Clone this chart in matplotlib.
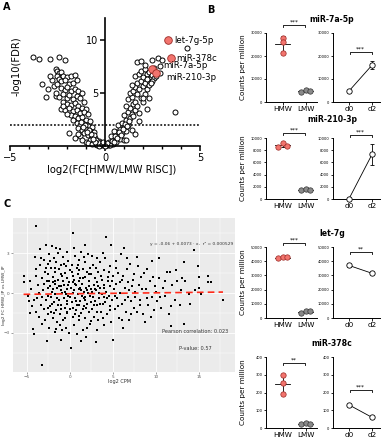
import numpy as np
import matplotlib
matplotlib.use("Agg")
import matplotlib.pyplot as plt

# ---------------- data ----------------
# Panel A: volcano (log2 FC, -log10 FDR)
volcano_fc = [
    -3.8, -3.5, -2.9, -2.4, -2.1, -3.0, -3.1, -2.6,
    -2.6, -2.5, -2.4, -2.3, -2.2, -2.5, -2.0, -1.8, -1.6, -2.4, -2.3, -2.1, -1.9, -1.7, -1.5,
    -2.7, -2.5, -2.3, -2.1, -2.0, -1.8, -1.6, -1.4, -1.2,
    -2.4, -2.2, -2.0, -1.9, -1.7, -1.5, -1.3, -1.1, -2.2, -2.0, -1.8, -1.6, -1.4, -1.2, -1.0,
    -2.3, -2.1, -1.9, -1.7, -1.5, -1.3, -1.1, -0.9, -1.8, -1.6, -1.4, -1.2, -1.0, -0.8,
    -1.5, -1.3, -1.1, -0.9, -0.7, -1.4, -1.2, -1.0, -0.8, -0.6, -1.1, -0.9, -0.7, -0.5,
    -0.8, -0.6, -0.4, -0.5, -0.3, -0.2, -0.1, -1.3, -1.9, -1.6, -1.0, -0.3, -0.9, -0.7,
    -0.4, -0.6, -2.6, -2.8, -3.3, -2.9, -1.4, -1.2, -1.7, -2.0, -2.2,
    0.1, 0.2, 0.3, 0.2, 0.4, 0.5, 0.4, 0.6, 0.7, 0.6, 0.8, 0.8, 0.9, 0.7, 1.0, 1.1,
    0.9, 1.0, 1.1, 1.0, 1.2, 1.2, 1.3, 1.4, 1.3, 1.4, 1.5, 1.5, 1.6, 1.1, 1.2, 1.4,
    1.6, 1.7, 1.8, 1.3, 1.5, 1.7, 1.9, 2.0, 1.6, 1.8, 2.0, 2.2, 1.4, 1.7, 1.9, 2.1,
    2.3, 1.6, 1.8, 2.0, 2.2, 2.4, 1.9, 2.1, 2.3, 2.5, 2.6, 1.7, 1.9, 2.1, 2.5, 2.8,
    3.0, 4.3, 3.7, 2.5, 2.7, 2.9, 1.8, 2.2, 1.1, 1.6, 2.1, 2.3, 0.5, 0.3, 2.4, 2.2,
    2.0, 2.6, 2.9,
    -0.2, -0.3, -0.15, 0.15, 0.25, -0.35, 0.35, -0.45, 0.45, -0.55, 0.55, -0.65, 0.65,
    -0.75, 0.75, -0.85, 0.85, -0.95, 0.95, -1.05, 1.05, -1.15, 1.15, -1.25, 1.25,
    0.05, -0.05, 0.1, -0.1, 0.0,
]
volcano_fdr = [
    8.4, 8.2, 8.2, 8.4, 8.1, 5.4, 4.6, 4.7,
    7.3, 7.1, 6.9, 7.0, 6.6, 6.6, 6.5, 6.6, 6.7, 6.3, 6.1, 6.2, 5.9, 6.0, 6.2,
    5.7, 5.9, 5.5, 5.3, 5.6, 5.2, 5.4, 5.2, 5.0,
    4.6, 4.9, 4.5, 4.8, 4.4, 4.7, 4.5, 4.2, 4.2, 4.0, 3.9, 4.1, 3.8, 3.6, 3.5,
    3.5, 3.4, 3.6, 3.3, 3.4, 3.1, 3.2, 3.0, 2.9, 2.8, 2.6, 2.7, 2.5, 2.4,
    2.2, 2.0, 2.1, 1.9, 1.8, 1.7, 1.5, 1.6, 1.4, 1.3, 1.2, 1.0, 0.9, 0.8,
    0.6, 0.5, 0.4, 0.2, 0.2, 0.1, 0.05, 0.9, 1.2, 0.8, 0.4, 0.5, 0.3, 0.2,
    0.1, 1.0, 5.0, 6.2, 5.9, 6.6, 1.1, 0.6, 2.5, 3.0, 3.8,
    0.05, 0.1, 0.3, 0.4, 0.2, 0.6, 0.8, 0.4, 1.0, 1.3, 0.7, 1.6, 1.2, 2.0, 0.6, 0.6,
    2.2, 1.8, 2.5, 2.9, 2.0, 3.2, 2.6, 1.5, 3.6, 3.0, 2.8, 4.0, 3.4, 3.8, 4.4, 4.6,
    4.2, 3.8, 3.1, 5.0, 5.2, 4.9, 4.5, 4.2, 5.6, 5.4, 5.7, 5.4, 5.8, 6.0, 6.1, 6.0,
    5.8, 6.6, 6.8, 6.5, 6.8, 6.5, 7.1, 7.3, 7.0, 6.7, 6.4, 7.9, 8.0, 7.7, 8.1, 8.3,
    8.1, 9.3, 3.2, 6.1, 6.6, 6.9, 2.4, 3.5, 1.4, 1.1, 4.9, 4.5, 1.4, 0.9, 6.0, 6.3,
    4.5, 7.4, 7.6,
    0.3, 0.0, 0.2, 0.2, 0.05, 0.35, 0.5, 0.6, 0.4, 0.4, 0.9, 0.7, 0.8,
    1.1, 1.3, 1.5, 1.0, 1.3, 1.6, 2.0, 2.1, 1.8, 1.9, 2.3, 2.4,
    0.1, 0.15, 0.3, 0.35, 0.0,
]
highlight_names = ["let-7g-5p", "miR-378c", "miR-7a-5p", "miR-210-3p"]
highlight_fc = [3.3, 3.47, 2.47, 2.7]
highlight_fdr = [10.0, 8.3, 7.3, 6.9]
fdr_threshold = 2.0

# Panel B: counts per million
mirnas = ["miR-7a-5p", "miR-210-3p", "let-7g", "miR-378c"]
hmw_cpm = [[28000, 26000, 21500], [8600, 9200, 8700], [42000, 43000, 42800], [300, 255, 190]]
lmw_cpm = [[4500, 5200, 4800], [1500, 1600, 1550], [3800, 5000, 4900], [22, 28, 25]]
d0_cpm = [4800, 50, 37000, 130]
d2_cpm = [16000, 7300, 31500, 60]
d0_err = [300, 30, 1200, 6]
d2_err = [1800, 1700, 600, 5]
group_labels = ["HMW", "LMW"]
day_labels = ["d0", "d2"]
sig_groups = ["***", "***", "***", "**"]
sig_days = ["***", "***", "**", "***"]
y_max = [30000, 10000, 50000, 400]
y_step = [10000, 2000, 10000, 100]

# Panel C: log2 CPM vs log2 FC
cpm_pts = [
    (-5.4, 1.3), (-5.4, 0.85), (-4.9, -0.2), (-4.8, -0.6), (-4.6, -1.5), (-4.3, -2.7), (-4.2, -3.1),
    (-4.5, 0.3), (-4.4, -1.0), (-4.1, 2.7), (-4.0, 5.0), (-3.9, 1.8), (-3.8, -0.4), (-3.7, 0.6),
    (-3.6, -1.8), (-3.5, 3.3), (-3.5, 2.1), (-3.4, -0.9), (-3.3, -5.4), (-3.3, 1.1), (-3.2, -2.3),
    (-3.1, 0.2), (-3.0, 2.5), (-3.0, -1.2), (-2.9, 1.6), (-2.8, 3.6), (-2.8, -0.5), (-2.7, -3.6),
    (-2.7, 0.9), (-2.6, 2.2), (-2.6, -1.6), (-2.5, 1.4), (-2.5, -0.2), (-2.4, 2.9), (-2.4, -2.6),
    (-2.3, 0.5), (-2.3, -1.0), (-2.2, 1.9), (-2.2, -0.3), (-2.1, 3.5), (-2.1, 0.1), (-2.0, -1.9),
    (-2.0, 1.2), (-1.9, 2.6), (-1.9, -0.7), (-1.8, 0.7), (-1.8, -2.9), (-1.7, 1.6), (-1.7, -0.1),
    (-1.6, 2.3), (-1.6, -1.3), (-1.5, 0.4), (-1.5, -2.2), (-1.4, 1.0), (-1.4, 3.0), (-1.3, -0.5),
    (-1.3, 1.8), (-1.2, 3.3), (-1.2, -1.6), (-1.1, 0.2), (-1.1, 2.1), (-1.0, -3.5), (-1.0, -0.9),
    (-0.9, 1.3), (-0.9, 0.0), (-0.8, 2.7), (-0.8, -2.0), (-0.7, 0.6), (-0.7, -0.4), (-0.6, 1.5),
    (-0.6, -1.1), (-0.5, 2.0), (-0.5, -2.6), (-0.4, 0.3), (-0.4, -0.6), (-0.3, 1.1), (-0.3, -1.5),
    (-0.2, 2.4), (-0.2, -0.2), (-0.1, 0.8), (-0.1, -3.0), (0.0, -1.2), (0.0, 1.7), (-2.0, 0.8),
    (-1.5, -0.4), (-1.0, 0.5), (-0.5, -0.1), (-2.2, -1.4), (-1.8, 1.9), (-1.2, -2.4), (-0.8, 0.9),
    (-0.3, -0.8), (-2.4, 0.9), (-1.6, -2.7), (-0.6, -1.9),
    (0.1, -4.1), (0.1, 0.4), (0.2, 2.1), (0.2, -0.7), (0.3, 1.3), (0.3, -1.8), (0.4, 4.5), (0.4, 0.0),
    (0.5, -2.4), (0.5, 1.0), (0.6, 2.8), (0.6, -0.4), (0.7, 0.6), (0.7, -1.3), (0.8, 1.9), (0.8, -3.1),
    (0.9, -0.1), (0.9, 1.4), (1.0, -0.9), (1.0, 2.5), (1.1, 0.3), (1.1, -2.0), (1.2, 1.1), (1.2, -0.6),
    (1.3, 3.1), (1.3, -1.5), (1.4, 0.7), (1.4, -0.2), (1.5, 1.8), (1.5, -2.8), (1.6, 0.1), (1.6, -1.0),
    (1.7, 2.3), (1.7, -0.5), (1.8, 1.2), (1.8, -1.9), (1.9, 0.4), (1.9, -3.3), (2.0, 1.6), (2.0, -0.8),
    (2.1, 2.9), (2.1, 0.0), (2.2, -1.4), (2.2, 0.9), (2.3, -2.3), (2.3, 1.9), (2.4, 0.3), (2.4, -0.7),
    (0.3, 0.8), (0.8, -0.9), (1.3, 0.2), (1.8, -0.3), (2.2, 0.5), (0.6, -1.6), (1.1, 1.7), (1.6, 2.7),
    (2.0, -2.6), (0.5, 0.2), (1.0, 0.9), (1.5, -1.2),
    (2.5, 1.4), (2.6, -1.2), (2.7, 2.1), (2.7, -0.3), (2.8, 0.6), (2.8, -1.8), (2.9, 1.1), (3.0, -3.7),
    (3.0, 0.2), (3.1, 2.6), (3.1, -0.9), (3.2, 0.8), (3.3, -2.0), (3.3, 1.6), (3.4, -0.4), (3.5, 0.4),
    (3.5, 2.3), (3.6, -1.4), (3.7, 1.0), (3.7, -0.1), (3.8, 3.0), (3.9, -2.4), (3.9, 0.6), (4.0, 1.7),
    (4.1, -0.7), (4.2, 4.2), (4.2, 0.1), (4.3, -1.6), (4.4, 1.2), (4.5, -0.2), (4.6, 2.0), (4.6, -1.0),
    (4.7, 0.5), (4.8, 3.6), (4.8, -2.2), (4.9, -0.5), (5.0, -3.5), (5.0, 1.3), (2.6, 0.1), (3.4, 0.0),
    (4.0, -0.3), (2.9, -0.6), (3.8, -0.8), (4.4, 0.9), (3.2, -2.8),
    (5.1, 0.3), (5.2, -1.2), (5.3, 2.4), (5.4, 0.7), (5.5, -0.4), (5.6, 1.5), (5.7, -1.9), (5.8, 0.0),
    (5.9, 2.9), (6.0, -0.8), (6.1, 1.0), (6.2, -2.6), (6.3, 3.4), (6.4, 0.4), (6.5, -1.4), (6.6, 1.8),
    (6.7, -0.3), (6.8, 0.8), (6.9, -2.0), (7.0, 2.2), (7.1, -0.6), (7.2, 0.5), (7.4, 1.4), (7.5, -1.1),
    (7.6, 0.1), (7.8, -1.4), (7.9, 2.0), (8.0, 0.6), (8.2, -0.5), (8.3, 1.2), (8.5, -1.6), (8.7, -2.2),
    (8.8, 0.3), (9.0, 1.8), (9.1, -0.9), (9.3, 0.9), (9.5, -0.3), (9.6, 2.4), (9.8, -1.3), (9.9, 0.5),
    (10.1, -0.6), (10.3, 1.1), (10.4, 2.6), (10.6, -1.1), (10.8, 0.4), (11.0, -0.2), (11.3, 1.6),
    (11.5, -1.6), (11.6, 1.6), (11.7, -2.5), (11.9, 0.6), (12.2, -0.5), (12.5, 0.9), (12.8, -0.9),
    (13.0, 1.1), (13.3, 2.3), (13.3, -2.3), (13.4, 0.9), (13.8, -0.1), (14.4, 3.2), (14.6, 0.2),
    (15.0, 1.2), (15.0, 0.4), (15.2, -0.1), (16.1, 0.8), (16.1, 1.3), (16.4, 0.8), (17.8, -0.5),
    (-4.7, 0.9), (-4.2, -0.5), (-4.0, 1.3), (-3.9, -1.4), (-3.6, 0.0), (-3.4, 2.6), (-3.2, -0.3),
    (-3.0, 0.7), (-2.9, -2.0), (-2.8, 1.9), (-2.6, 0.4), (-2.5, -1.1), (-2.3, 2.4), (-2.1, -0.8),
    (-2.0, 0.3), (-1.9, -1.5), (-1.7, 0.9), (-1.6, 3.4), (-1.4, -0.9), (-1.3, 0.5), (-1.1, -1.2),
    (-1.0, 1.4), (-0.9, -2.8), (-0.7, 2.2), (-0.6, 0.1), (-0.4, -1.4), (-0.3, 3.1), (-0.2, 0.6),
    (0.0, -0.3), (0.2, 1.6), (0.4, -1.1), (0.5, 3.4), (0.6, 0.7), (0.7, -0.6), (0.9, 2.1), (1.0, -1.7),
    (1.2, 0.4), (1.3, -3.6), (1.5, 1.1), (1.6, -0.4), (1.7, 3.6), (1.9, -1.1), (2.0, 0.2), (2.2, 1.4),
    (2.3, -0.2), (2.5, -2.1), (2.6, 2.8), (2.8, -0.9), (2.9, 0.3), (3.0, 1.9), (3.2, -1.4), (3.3, 0.5),
    (3.5, -0.8), (3.6, 1.3), (3.8, -1.9), (4.0, 0.4), (4.1, 2.6), (4.3, -0.4), (4.5, 1.6), (4.7, -1.3),
    (4.9, 0.9), (5.2, -0.2), (5.4, 1.9), (5.6, -1.0), (5.8, 0.8), (6.0, -2.0), (6.2, 1.3), (6.4, -0.5),
    (6.6, 2.6), (6.9, 0.2), (7.1, -1.6), (7.3, 1.0), (7.6, -0.3), (7.8, 2.7), (8.1, -0.9), (8.4, 0.3),
    (8.6, 1.5), (9.0, -0.4), (9.4, -1.8), (9.7, 1.2), (10.0, 0.1), (10.5, -0.3), (11.1, 0.9),
    (11.8, -1.0), (12.3, 1.7), (12.9, 0.2), (14.0, -0.8), (14.9, 2.0),
]
cpm_x = [p[0] for p in cpm_pts]
cpm_y = [p[1] for p in cpm_pts]
fit_intercept = -0.06
fit_slope = 0.0073
fit_r2 = "0.000529"
pearson_r = "0.023"
p_value = "0.57"

# ---------------- figure ----------------
W, H = 390, 440
fig = plt.figure(figsize=(W / 100, H / 100), dpi=100)
fig.patch.set_facecolor("white")


def add_ax(l, t, r, b):
    return fig.add_axes([l / W, 1 - b / H, (r - l) / W, (b - t) / H])


def fx(px):
    return px / W


def fy(py):
    return 1 - py / H


RED = "#f2746e"
RED_EDGE = "#9a2a25"
GRAY = "#8a8a8a"
GRAY_EDGE = "#333333"

# ---------- Panel A ----------
fig.text(fx(3), fy(7), "A", fontsize=7, fontweight="bold", ha="left", va="center")
axA = add_ax(10, 18, 200, 146)
axA.scatter(volcano_fc, volcano_fdr, s=13, facecolor="white", edgecolor="black",
            linewidth=0.7, zorder=2, clip_on=False)
axA.scatter(highlight_fc, highlight_fdr, s=30, facecolor=RED, edgecolor=RED_EDGE,
            linewidth=0.6, zorder=3)
offsets = [(5, 0), (3.5, 0), (8, 2), (7, -3)]
for name, x, y, off in zip(highlight_names, highlight_fc, highlight_fdr, offsets):
    axA.annotate(name, (x, y), xytext=off, textcoords="offset points",
                 ha="left", va="center", fontsize=6.2, annotation_clip=False)
axA.set_xlim(-5, 5)
axA.set_ylim(0, 12.1)
axA.spines["left"].set_position(("data", 0))
axA.spines[["top", "right"]].set_visible(False)
axA.spines["left"].set_linewidth(1.2)
axA.spines["bottom"].set_linewidth(1.2)
axA.set_xticks([-5, 0, 5])
axA.set_xticks(np.arange(-5, 6, 1), minor=True)
axA.set_yticks([5, 10])
axA.tick_params(axis="both", which="major", labelsize=7, length=3.5, width=1.1, pad=1.5)
axA.tick_params(axis="x", which="minor", length=2.5, width=1.0)
axA.axhline(fdr_threshold, ls=(0, (1.2, 1.2)), color="black", lw=1.1, zorder=1)
axA.set_facecolor("none")
fig.text(fx(112), fy(170), "log2(FC[HMW/LMW RISC])", fontsize=7.2, ha="center", va="center")
fig.text(fx(17), fy(66), "-log10(FDR)", fontsize=7.2, ha="center", va="center", rotation=90)

# ---------- Panel B ----------
fig.text(fx(207), fy(10), "B", fontsize=7, fontweight="bold", ha="left", va="center")
row_tops = [33, 138, 247, 357]
row_bots = [102, 199, 318, 428]
title_y = [19, 119, 233, 343]
grp_sig_y = [33500, 10800, 52800, 366]
day_sig_y = [21700, 10500, 46500, 214]


def style_b(ax, ymax, step, labels):
    ax.set_ylim(0, ymax)
    ax.set_yticks(np.arange(0, ymax + 1, step))
    ax.spines[["top", "right"]].set_visible(False)
    ax.spines["left"].set_linewidth(0.7)
    ax.spines["bottom"].set_linewidth(0.7)
    ax.set_xticks([0, 1])
    ax.set_xticklabels(labels)
    ax.tick_params(axis="y", labelsize=2.6, length=1.8, width=0.6, pad=0.8)
    ax.tick_params(axis="x", labelsize=5.2, length=2, width=0.6, pad=1)
    ax.set_facecolor("none")


def bracket(ax, y, ymax, axis_px, stars):
    h = ymax * 2.0 / axis_px
    ax.plot([0.02, 0.02, 0.98, 0.98], [y - h, y, y, y - h], color="black", lw=0.6, clip_on=False)
    ax.text(0.5, y + h * 0.3, stars, ha="center", va="bottom", fontsize=4.2, clip_on=False)


for r in range(4):
    t, b = row_tops[r], row_bots[r]
    ymax, step = y_max[r], y_step[r]
    axp = b - t
    # left: HMW vs LMW
    axL = add_ax(266, t, 317, b)
    for i, (vals, fc, ec) in enumerate([(hmw_cpm[r], RED, RED_EDGE), (lmw_cpm[r], GRAY, GRAY_EDGE)]):
        v = np.asarray(vals, dtype=float)
        if (v.max() - v.min()) < 0.08 * ymax:
            offs = np.array([-0.2, 0.0, 0.2])
        else:
            offs = np.zeros(len(v))
        m, sd = v.mean(), v.std(ddof=1)
        axL.errorbar(i, m, yerr=sd, color="black", lw=0.6, capsize=1.5, capthick=0.6, zorder=1)
        axL.plot([i - 0.32, i + 0.32], [m, m], color="black", lw=0.6, zorder=1)
        axL.scatter(i + offs, v, s=15, facecolor=fc, edgecolor=ec, linewidth=0.5, zorder=3, clip_on=False)
    axL.set_xlim(-0.72, 1.5)
    style_b(axL, ymax, step, group_labels)
    bracket(axL, grp_sig_y[r], ymax, axp, sig_groups[r])
    fig.text(fx(243), fy((t + b) / 2), "Counts per million", fontsize=5.2, rotation=90,
             ha="center", va="center")
    # right: d0 vs d2
    axR = add_ax(333, t, 380, b)
    axR.errorbar([0, 1], [d0_cpm[r], d2_cpm[r]], yerr=[d0_err[r], d2_err[r]], color="black",
                 lw=0.6, capsize=1.5, capthick=0.6, zorder=1)
    axR.scatter([0, 1], [d0_cpm[r], d2_cpm[r]], s=15, facecolor="white", edgecolor="black",
                linewidth=0.6, zorder=3, clip_on=False)
    axR.set_xlim(-0.7, 1.35)
    style_b(axR, ymax, step, day_labels)
    bracket(axR, day_sig_y[r], ymax, axp, sig_days[r])
    fig.text(fx(332), fy(title_y[r]), mirnas[r], fontsize=5.6, fontweight="bold",
             ha="center", va="center")

# ---------- Panel C ----------
fig.text(fx(3), fy(204), "C", fontsize=7, fontweight="bold", ha="left", va="center")
axC = add_ax(13, 218, 235, 372)
axC.set_facecolor("#ebebeb")
axC.set_xlim(-6.63, 19.2)
axC.set_ylim(-5.93, 5.63)
axC.set_xticks([-5, 0, 5, 10, 15])
axC.set_xticks([-2.5, 2.5, 7.5, 12.5, 17.5], minor=True)
axC.set_yticks([-3, 0, 3])
axC.set_yticks([-4.5, -1.5, 1.5, 4.5], minor=True)
axC.grid(which="major", color="white", lw=0.6)
axC.grid(which="minor", color="white", lw=0.3)
axC.set_axisbelow(True)
for s in axC.spines.values():
    s.set_visible(False)
axC.tick_params(which="major", labelsize=3, length=1.5, width=0.4, color="#555555",
                labelcolor="#555555", pad=1)
axC.tick_params(which="minor", length=0)
axC.scatter(cpm_x, cpm_y, s=3.0, marker="s", color="black", linewidth=0, zorder=3)
xs = np.array([min(cpm_x), max(cpm_x)])
axC.plot(xs, fit_intercept + fit_slope * xs, ls=(0, (4, 2.5)), color="#ff2a1a", lw=1.2, zorder=4)
axC.text(9.3, 3.7, f"y = {fit_intercept:g} + {fit_slope:g} · x,  r² = {fit_r2}",
         fontsize=3.2, color="#333333", ha="left", va="center")
axC.text(14.6, -2.9, f"Pearson correlation: {pearson_r}", fontsize=3.6, color="#333333",
         ha="center", va="center")
axC.text(14.6, -4.2, f"P-value: {p_value}", fontsize=3.6, color="#333333",
         ha="center", va="center")
fig.text(fx(120), fy(381), "log2 CPM", fontsize=3.6, color="#333333", ha="center", va="center")
fig.text(fx(4), fy(295), "log2 FC HMW_IP vs LMW_IP", fontsize=3.2, color="#333333",
         rotation=90, ha="center", va="center")

fig.savefig("out.png", dpi=100)
